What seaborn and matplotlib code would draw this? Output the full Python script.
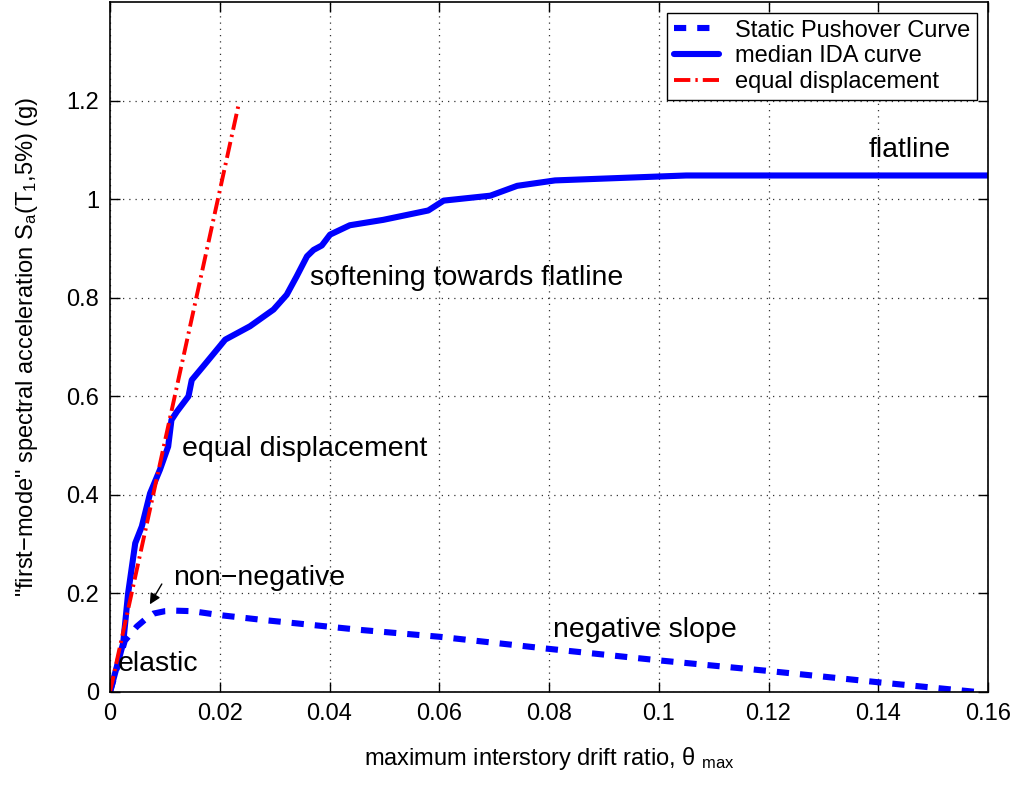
import numpy as np
import pandas as pd
import matplotlib
matplotlib.use("Agg")
import matplotlib.pyplot as plt
import seaborn as sns

# Median IDA curve (max interstory drift vs first-mode Sa)
ida_drift = [0, 0.0024, 0.0033, 0.0046, 0.0058, 0.0073, 0.0091, 0.0106, 0.0112, 0.0122,
             0.0143, 0.0149, 0.0170, 0.0210, 0.0255, 0.0298, 0.0322, 0.0340, 0.0359,
             0.0371, 0.0386, 0.0401, 0.0437, 0.0498, 0.0580, 0.0608, 0.0693, 0.0742,
             0.0811, 0.1002, 0.1050, 0.1600]
ida_sa = [0, 0.099, 0.200, 0.302, 0.336, 0.403, 0.451, 0.498, 0.552, 0.569,
          0.600, 0.633, 0.661, 0.715, 0.742, 0.776, 0.806, 0.843, 0.884,
          0.897, 0.906, 0.928, 0.947, 0.958, 0.977, 0.997, 1.007, 1.027,
          1.038, 1.046, 1.048, 1.048]

# Static pushover curve
spo_drift = [0, 0.0027, 0.0049, 0.0067, 0.0079, 0.0100, 0.0120, 0.0150, 0.0200, 0.0280,
             0.0316, 0.0456, 0.0601, 0.0796, 0.1002, 0.1197, 0.1398, 0.1580]
spo_sa = [0, 0.104, 0.133, 0.150, 0.159, 0.164, 0.165, 0.164, 0.156, 0.146,
          0.142, 0.126, 0.112, 0.088, 0.064, 0.043, 0.020, 0.0]

# Equal displacement rule line
eqd_drift = [0, 0.0234]
eqd_sa = [0, 1.19]

x_ticks = [0, 0.02, 0.04, 0.06, 0.08, 0.1, 0.12, 0.14, 0.16]
y_ticks = [0, 0.2, 0.4, 0.6, 0.8, 1.0, 1.2]
x_tick_labels = ["0", "0.02", "0.04", "0.06", "0.08", "0.1", "0.12", "0.14", "0.16"]
y_tick_labels = ["0", "0.2", "0.4", "0.6", "0.8", "1", "1.2"]

sns.set_theme(style="white")
plt.rcParams["font.family"] = ["Liberation Sans", "DejaVu Sans"]
plt.rcParams["mathtext.fontset"] = "custom"
plt.rcParams["mathtext.rm"] = "Liberation Sans"
plt.rcParams["mathtext.it"] = "Liberation Sans"
plt.rcParams["text.color"] = "black"
plt.rcParams["axes.labelcolor"] = "black"
plt.rcParams["xtick.color"] = "black"
plt.rcParams["ytick.color"] = "black"

fig = plt.figure(figsize=(10.15, 7.85), dpi=100)
ax = fig.add_axes([110 / 1015, 1 - 692 / 785, 878 / 1015, 690 / 785])

spo = pd.DataFrame({"drift": spo_drift, "sa": spo_sa})
ida = pd.DataFrame({"drift": ida_drift, "sa": ida_sa})
eqd = pd.DataFrame({"drift": eqd_drift, "sa": eqd_sa})

sns.lineplot(data=spo, x="drift", y="sa", ax=ax, color="#0000ff", linewidth=4.4,
             sort=False, estimator=None, label="Static Pushover Curve")
ax.lines[-1].set_dashes((2.0, 1.8))
sns.lineplot(data=ida, x="drift", y="sa", ax=ax, color="#0000ff", linewidth=4.4,
             sort=False, estimator=None, label="median IDA curve")
sns.lineplot(data=eqd, x="drift", y="sa", ax=ax, color="#ff0000", linewidth=2.8,
             sort=False, estimator=None, label="equal displacement")
ax.lines[-1].set_dashes((4.2, 1.3, 0.6, 1.3))

ax.set_xlim(0, 0.16)
ax.set_ylim(0, 1.4)
ax.set_xticks(x_ticks)
ax.set_xticklabels(x_tick_labels)
ax.set_yticks(y_ticks)
ax.set_yticklabels(y_tick_labels)
ax.tick_params(axis="both", direction="in", length=7, width=1, labelsize=17,
               top=True, right=True, bottom=True, left=True, colors="black",
               labelcolor="black", pad=8)
ax.grid(True, linestyle=(0, (1, 4)), color="#333333", linewidth=0.9)
for sp in ax.spines.values():
    sp.set_color("black")
    sp.set_linewidth(1.2)

ax.set_xlabel(r"maximum interstory drift ratio, $\theta$ $_{\mathrm{max}}$", fontsize=17,
              labelpad=14, color="black")
ax.set_ylabel("\"first\u2212mode\" spectral acceleration S$_{\\mathrm{a}}$(T$_{\\mathrm{1}}$,5%) (g)",
              fontsize=17, labelpad=19, color="black")

fs = 20.5
ax.text(0.1382, 1.10, "flatline", fontsize=fs, va="center", ha="left")
ax.text(0.0364, 0.841, "softening towards flatline", fontsize=fs, va="center", ha="left")
ax.text(0.0131, 0.493, "equal displacement", fontsize=fs, va="center", ha="left")
ax.text(0.0115, 0.231, "non\u2212negative", fontsize=fs, va="center", ha="left")
ax.text(0.0807, 0.126, "negative slope", fontsize=fs, va="center", ha="left")
ax.text(0.0015, 0.057, "elastic", fontsize=fs, va="center", ha="left")
ax.annotate("", xy=(0.0070, 0.173), xytext=(0.0097, 0.224),
            arrowprops=dict(arrowstyle="-|>", color="black", lw=1.0, mutation_scale=16))

leg = ax.legend(loc="upper right", fontsize=17, frameon=True, fancybox=False,
                edgecolor="black", framealpha=1, handlelength=1.9, handletextpad=0.7,
                borderpad=0.3, labelspacing=0.15, borderaxespad=0.45)
leg.get_frame().set_linewidth(1.0)
for t in leg.get_texts():
    t.set_color("black")

fig.savefig("out.png", dpi=100)
